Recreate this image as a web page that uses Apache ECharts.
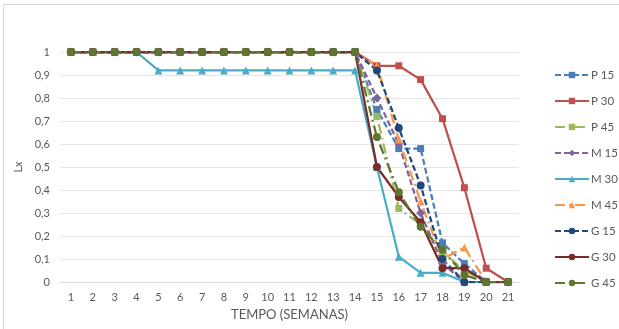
<!DOCTYPE html>
<html><head><meta charset="utf-8">
<script src="https://cdn.jsdelivr.net/npm/echarts@6/dist/echarts.min.js"></script>
<style>
html,body{margin:0;padding:0;background:#fff;}
#frame{position:absolute;left:3px;top:4px;width:616px;height:325px;border-left:1px solid #d9d9d9;border-top:1px solid #d9d9d9;}
#c{position:absolute;left:0;top:0;width:619px;height:329px;}
</style></head>
<body><div id="frame"></div><div id="c"></div>
<script>
const categories = ['1','2','3','4','5','6','7','8','9','10','11','12','13','14','15','16','17','18','19','20','21'];
const yTicks = [0,0.1,0.2,0.3,0.4,0.5,0.6,0.7,0.8,0.9,1];
const seriesNames = ['P 15','P 30','P 45','M 15','M 30','M 45','G 15','G 30','G 45'];
const P15 = [1,1,1,1,1,1,1,1,1,1,1,1,1,1,0.75,0.58,0.58,0.17,0.08,0,0];
const P30 = [1,1,1,1,1,1,1,1,1,1,1,1,1,1,0.94,0.94,0.88,0.71,0.41,0.06,0];
const P45 = [1,1,1,1,1,1,1,1,1,1,1,1,1,1,0.72,0.32,0.25,0.13,0.05,0,0];
const M15 = [1,1,1,1,1,1,1,1,1,1,1,1,1,1,0.8,0.6,0.3,0.08,0,0,0];
const M30 = [1,1,1,1,0.92,0.92,0.92,0.92,0.92,0.92,0.92,0.92,0.92,0.92,0.5,0.11,0.04,0.04,0,0,0];
const M45 = [1,1,1,1,1,1,1,1,1,1,1,1,1,1,0.94,0.62,0.35,0.1,0.15,0,0];
const G15 = [1,1,1,1,1,1,1,1,1,1,1,1,1,1,0.92,0.67,0.42,0.1,0,0,0];
const G30 = [1,1,1,1,1,1,1,1,1,1,1,1,1,1,0.5,0.37,0.26,0.06,0.06,0,0];
const G45 = [1,1,1,1,1,1,1,1,1,1,1,1,1,1,0.63,0.39,0.24,0.14,0.03,0,0];

const allData = [P15,P30,P45,M15,M30,M45,G15,G30,G45];
const colors = ['#4a7ebb','#c0504d','#9bbb59','#8064a2','#4bacc6','#f79646','#1f497d','#772c2a','#5f7530'];
const dashes = [[6,3],'solid',[10,4,2,4],[6,3],'solid',[10,4,2,4],[6,3],'solid',[10,4,2,4]];
const symbols = ['rect','rect','rect','diamond','triangle','triangle','circle','circle','circle'];
const symSizes = [7,7,7,9,8,8,8,8,8];

const FONT = 'Lato';
const chart = echarts.init(document.getElementById('c'), null, {renderer:'canvas'});
chart.setOption({
  animation:false,
  textStyle:{fontFamily:FONT},
  grid:{left:60, top:52, width:459, height:230},
  legend:{
    orient:'vertical', left:549, top:64, itemWidth:34, itemHeight:8, itemGap:14,
    textStyle:{color:'#595959', fontSize:11.5, fontFamily:FONT, padding:[0,0,0,-3]},
    data: seriesNames
  },
  xAxis:{
    type:'category', data:categories, boundaryGap:true,
    axisTick:{show:false},
    axisLine:{lineStyle:{color:'#d9d9d9'}},
    axisLabel:{color:'#595959', fontSize:11, fontFamily:FONT, margin:10},
    name:'TEMPO (SEMANAS)', nameLocation:'middle', nameGap:25,
    nameTextStyle:{color:'#595959', fontSize:13, fontFamily:FONT}
  },
  yAxis:{
    type:'value', min:0, max:1, interval:0.1,
    axisLine:{show:false}, axisTick:{show:false},
    splitLine:{lineStyle:{color:'#e6e6e6'}},
    axisLabel:{color:'#595959', fontSize:11, fontFamily:FONT, margin:10,
      formatter: v => { const t = yTicks.find(x => Math.abs(x-v)<1e-6); return (t===0||t===1)? String(t) : t.toFixed(1).replace('.',','); }},
    name:'Lx', nameLocation:'middle', nameGap:32, nameRotate:90,
    nameTextStyle:{color:'#595959', fontSize:11, fontFamily:FONT}
  },
  series: seriesNames.map((n,i)=>({
    name:n, type:'line', data:allData[i],
    symbol:symbols[i], symbolSize:symSizes[i], showAllSymbol:true,
    itemStyle:{color:colors[i]},
    lineStyle:{color:colors[i], width:2.25, type:dashes[i]}
  }))
});
</script></body></html>
